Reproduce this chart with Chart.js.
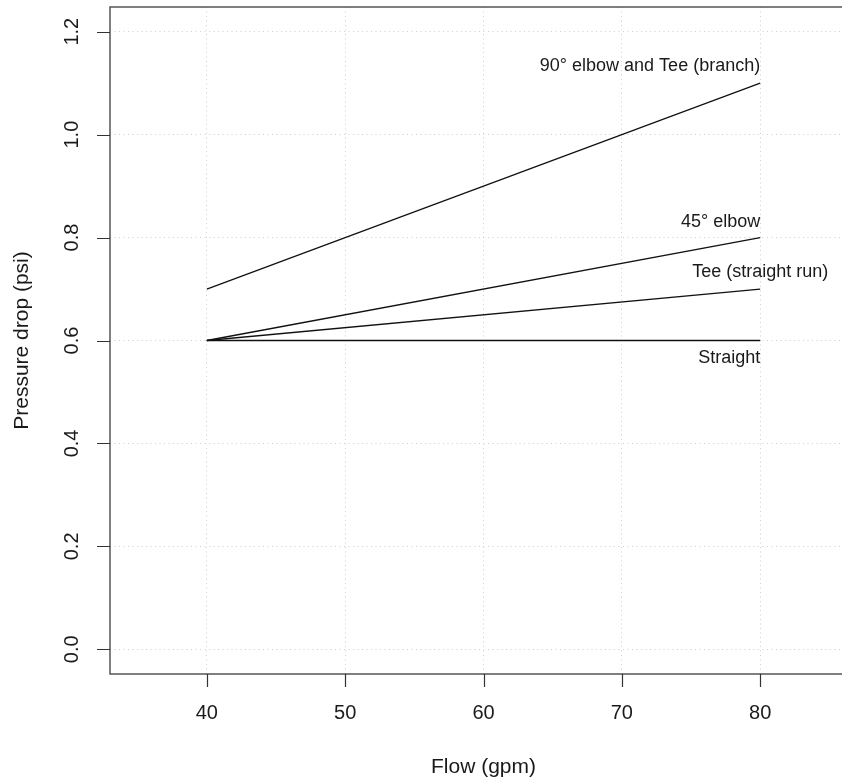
<!DOCTYPE html>
<html>
<head>
<meta charset="utf-8">
<script src="https://cdn.jsdelivr.net/npm/chart.js@4.4.0/dist/chart.umd.min.js"></script>
<style>
  html, body { margin: 0; padding: 0; overflow: hidden; background: #fff; }
  #wrap { position: absolute; left: 0; top: 0; width: 880px; height: 783px; }
</style>
</head>
<body>
<div id="wrap"><canvas id="lineChart"></canvas></div>
<script>
// data
const flow = [40, 80];
const elbow90 = [0.7, 1.1];
const elbow45 = [0.6, 0.8];
const teeRun = [0.6, 0.7];
const straight = [0.6, 0.6];
const seriesNames = ["90° elbow and Tee (branch)", "45° elbow", "Tee (straight run)", "Straight"];
const xTicks = [40, 50, 60, 70, 80];
const yTicks = [0, 0.2, 0.4, 0.6, 0.8, 1.0, 1.2];
const yTickLabels = ["0.0", "0.2", "0.4", "0.6", "0.8", "1.0", "1.2"];

const FONT = '"Liberation Sans", Arial, sans-serif';

const toPoints = (vals) => flow.map((x, i) => ({ x: x, y: vals[i] }));
const allSeries = [elbow90, elbow45, teeRun, straight];

// where each series label sits relative to its last point
const labelPlace = [
  { align: "right", dy: -17 },
  { align: "right", dy: -16 },
  { align: "center", dy: -17 },
  { align: "right", dy: 18 },
];

const rStyleAxes = {
  id: "rStyleAxes",
  afterDraw(chart) {
    const ctx = chart.ctx;
    const { left, right, top, bottom } = chart.chartArea;
    const xs = chart.scales.x;
    const ys = chart.scales.y;
    ctx.save();

    // box
    ctx.strokeStyle = "#555";
    ctx.lineWidth = 1.5;
    ctx.strokeRect(left, top, right - left, bottom - top);

    // tick marks
    ctx.strokeStyle = "#333";
    ctx.lineWidth = 1.2;
    ctx.beginPath();
    xTicks.forEach((v) => {
      const px = Math.round(xs.getPixelForValue(v)) + 0.5;
      ctx.moveTo(px, bottom);
      ctx.lineTo(px, bottom + 13);
    });
    yTicks.forEach((v) => {
      const py = Math.round(ys.getPixelForValue(v)) + 0.5;
      ctx.moveTo(left - 13, py);
      ctx.lineTo(left, py);
    });
    ctx.stroke();

    // tick labels
    ctx.fillStyle = "#1a1a1a";
    ctx.font = "20px " + FONT;
    ctx.textAlign = "center";
    ctx.textBaseline = "middle";
    xTicks.forEach((v) => {
      ctx.fillText(String(v), xs.getPixelForValue(v), 713);
    });
    yTicks.forEach((v, i) => {
      ctx.save();
      ctx.translate(72, ys.getPixelForValue(v));
      ctx.rotate(-Math.PI / 2);
      ctx.fillText(yTickLabels[i], 0, 0);
      ctx.restore();
    });

    // axis titles
    ctx.font = "21px " + FONT;
    ctx.fillText("Flow (gpm)", (left + right) / 2, 767);
    ctx.save();
    ctx.translate(22, (top + bottom) / 2);
    ctx.rotate(-Math.PI / 2);
    ctx.fillText("Pressure drop (psi)", 0, 0);
    ctx.restore();

    // series labels
    ctx.font = "18px " + FONT;
    allSeries.forEach((vals, i) => {
      const last = vals.length - 1;
      const px = xs.getPixelForValue(flow[last]);
      const py = ys.getPixelForValue(vals[last]);
      ctx.textAlign = labelPlace[i].align;
      ctx.fillText(seriesNames[i], px, py + labelPlace[i].dy);
    });

    ctx.restore();
  },
};

const ctx = document.getElementById("lineChart");

new Chart(ctx, {
  type: "line",
  data: {
    datasets: allSeries.map((vals, i) => ({
      label: seriesNames[i],
      data: toPoints(vals),
      borderColor: "#111",
      borderWidth: 1.3,
      pointRadius: 0,
      fill: false,
      tension: 0,
    })),
  },
  options: {
    responsive: true,
    maintainAspectRatio: false,
    animation: false,
    layout: { padding: { left: 110, top: 7, right: 23, bottom: 109 } },
    plugins: {
      legend: { display: false },
      tooltip: { enabled: false },
    },
    scales: {
      x: {
        type: "linear",
        min: 33,
        max: 87,
        afterBuildTicks: (scale) => {
          scale.ticks = xTicks.map((v) => ({ value: v }));
        },
        ticks: { display: false },
        grid: { color: "#cfcfcf", lineWidth: 1, drawTicks: false },
        border: { display: false, dash: [1, 3.5] },
      },
      y: {
        type: "linear",
        min: -0.048,
        max: 1.248,
        afterBuildTicks: (scale) => {
          scale.ticks = yTicks.map((v) => ({ value: v }));
        },
        ticks: { display: false },
        grid: { color: "#cfcfcf", lineWidth: 1, drawTicks: false },
        border: { display: false, dash: [1, 3.5] },
      },
    },
  },
  plugins: [rStyleAxes],
});
</script>
</body>
</html>
